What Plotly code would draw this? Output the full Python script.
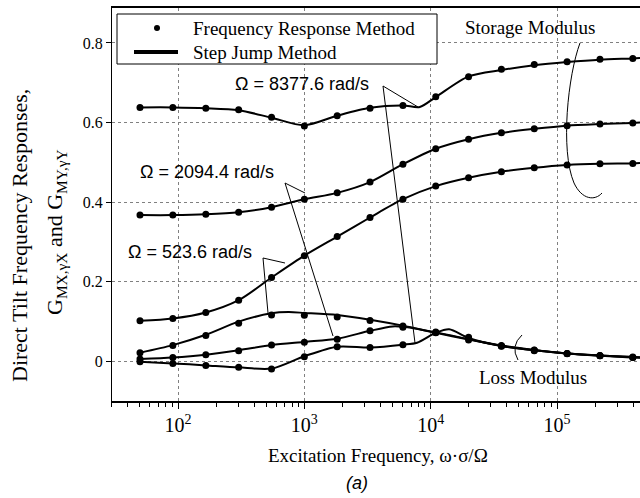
import plotly.graph_objects as go

# ---------------- data ----------------
freq_pts = [50, 91, 166, 302, 550, 1000, 1820, 3310, 6030, 10970, 19950, 36300, 66070, 120200, 218800, 398100]

# Frequency Response Method (points)
stor_8377 = [0.638, 0.638, 0.636, 0.632, 0.613, 0.591, 0.617, 0.636, 0.643, 0.665, 0.715, 0.734, 0.746, 0.753, 0.759, 0.761]
stor_2094 = [0.367, 0.367, 0.369, 0.374, 0.387, 0.407, 0.423, 0.450, 0.495, 0.534, 0.558, 0.574, 0.584, 0.592, 0.596, 0.599]
stor_523 = [0.101, 0.107, 0.122, 0.153, 0.210, 0.265, 0.313, 0.361, 0.407, 0.440, 0.461, 0.476, 0.486, 0.493, 0.496, 0.497]
loss_523 = [0.021, 0.039, 0.064, 0.095, 0.116, 0.115, 0.111, 0.102, 0.088, 0.072, 0.053, 0.039, 0.028, 0.019, 0.014, 0.010]
loss_2094 = [0.005, 0.009, 0.016, 0.026, 0.040, 0.047, 0.055, 0.076, 0.085, 0.073, 0.057, 0.038, 0.027, 0.019, 0.013, 0.009]
loss_8377 = [-0.002, -0.006, -0.011, -0.016, -0.020, 0.011, 0.036, 0.034, 0.041, 0.071, 0.060, 0.037, 0.026, 0.018, 0.013, 0.009]

# Step Jump Method (lines)
sj_stor_8377_x = [50, 91, 166, 302, 550, 1000, 1820, 3310, 6030, 8200, 10970, 19950, 36300, 66070, 120200, 218800, 398100, 454000]
sj_stor_8377_y = [0.638, 0.638, 0.636, 0.631, 0.612, 0.593, 0.617, 0.637, 0.643, 0.639, 0.664, 0.716, 0.732, 0.744, 0.752, 0.758, 0.761, 0.762]
sj_stor_2094_x = [50, 91, 166, 302, 550, 1000, 1820, 3310, 6030, 10970, 19950, 36300, 66070, 120200, 218800, 398100, 454000]
sj_stor_2094_y = [0.367, 0.367, 0.369, 0.374, 0.387, 0.407, 0.423, 0.450, 0.495, 0.534, 0.558, 0.574, 0.584, 0.592, 0.596, 0.599, 0.600]
sj_stor_523_x = [50, 91, 166, 302, 550, 1000, 1820, 3310, 6030, 10970, 19950, 36300, 66070, 120200, 218800, 398100, 454000]
sj_stor_523_y = [0.101, 0.107, 0.122, 0.153, 0.210, 0.265, 0.313, 0.361, 0.407, 0.440, 0.461, 0.476, 0.486, 0.493, 0.496, 0.497, 0.498]
sj_loss_523_x = [50, 91, 166, 302, 550, 750, 1000, 1820, 3310, 6030, 10970, 19950, 36300, 66070, 120200, 218800, 398100, 454000]
sj_loss_523_y = [0.021, 0.040, 0.066, 0.099, 0.120, 0.123, 0.121, 0.116, 0.104, 0.089, 0.071, 0.054, 0.039, 0.028, 0.019, 0.014, 0.010, 0.009]
sj_loss_2094_x = [50, 91, 166, 302, 550, 1000, 1820, 3310, 5000, 6030, 10970, 19950, 36300, 66070, 120200, 218800, 398100, 454000]
sj_loss_2094_y = [0.005, 0.009, 0.016, 0.027, 0.040, 0.048, 0.056, 0.076, 0.087, 0.086, 0.072, 0.055, 0.038, 0.027, 0.019, 0.013, 0.009, 0.009]
sj_loss_8377_x = [50, 91, 166, 302, 550, 1000, 1820, 3310, 6030, 7800, 10970, 14000, 19950, 36300, 66070, 120200, 218800, 398100, 454000]
sj_loss_8377_y = [-0.002, -0.006, -0.011, -0.016, -0.019, 0.012, 0.036, 0.034, 0.041, 0.046, 0.071, 0.080, 0.058, 0.038, 0.027, 0.019, 0.014, 0.010, 0.009]

y_tickvals = [0, 0.2, 0.4, 0.6, 0.8]
y_ticktext = ["0", "0.2", "0.4", "0.6", "0.8"]
legend_labels = ["Frequency Response Method", "Step Jump Method"]

SERIF = "Liberation Serif"
SANS = "Liberation Sans"

# ---------------- layout geometry (pixels) ----------------
W, H = 640, 498
L, R, T, B = 112, 640, 8, 401


def px(x):
    return (x - L) / (R - L)


def py(y):
    return (B - y) / (B - T)


fig = go.Figure()

point_sets = [stor_8377, stor_2094, stor_523, loss_523, loss_2094, loss_8377]
line_sets = [(sj_stor_8377_x, sj_stor_8377_y), (sj_stor_2094_x, sj_stor_2094_y),
             (sj_stor_523_x, sj_stor_523_y), (sj_loss_523_x, sj_loss_523_y),
             (sj_loss_2094_x, sj_loss_2094_y), (sj_loss_8377_x, sj_loss_8377_y)]

for lx, ly in line_sets:
    fig.add_trace(go.Scatter(x=lx, y=ly, mode="lines",
                             line=dict(color="black", width=2, shape="spline", smoothing=0.8),
                             name=legend_labels[1], showlegend=False, hoverinfo="skip"))
for ys in point_sets:
    fig.add_trace(go.Scatter(x=freq_pts, y=ys, mode="markers", marker=dict(color="black", size=7),
                             name=legend_labels[0], showlegend=False))

ann = []


def text(x, y, s, font, size, angle=0, italic=False, anchor="center"):
    ann.append(dict(x=px(x), y=py(y), xref="paper", yref="paper", text=s, showarrow=False,
                    xanchor=anchor, yanchor="middle", textangle=angle,
                    font=dict(family=font, size=size, color="black",
                              style="italic" if italic else "normal")))


text(302, 84, "Ω = 8377.6 rad/s", SANS, 18)
text(207, 172, "Ω = 2094.4 rad/s", SANS, 18)
text(190, 252, "Ω = 523.6 rad/s", SANS, 18)
text(530, 27, "Storage Modulus", SERIF, 19)
text(533, 377, "Loss Modulus", SERIF, 19)
text(378, 455, "Excitation Frequency, ω·σ/Ω", SERIF, 19)
text(357, 483, "(a)", SANS, 18, italic=True)
text(19, 236, "Direct Tilt Frequency Responses,", SERIF, 22, angle=-90)
text(56, 232, "G<sub>MX,γX</sub> and G<sub>MY,γY</sub>", SERIF, 22, angle=-90)

# legend (box, symbols, labels)
text(191, 28, legend_labels[0], SERIF, 19, anchor="left")
text(191, 52, legend_labels[1], SERIF, 19, anchor="left")

shapes = []


def seg(x0, y0, x1, y1, w=1):
    shapes.append(dict(type="line", xref="paper", yref="paper", x0=px(x0), y0=py(y0), x1=px(x1), y1=py(y1),
                       line=dict(color="black", width=w)))


shapes.append(dict(type="rect", xref="paper", yref="paper", x0=px(117), y0=py(14), x1=px(437), y1=py(64),
                   line=dict(color="black", width=1), fillcolor="white", layer="above"))
shapes.append(dict(type="circle", xref="paper", yref="paper", x0=px(154), y0=py(25), x1=px(160), y1=py(31),
                   line=dict(color="black", width=0), fillcolor="black", layer="above"))
shapes.append(dict(type="line", xref="paper", yref="paper", x0=px(134), y0=py(52), x1=px(178), y1=py(52),
                   line=dict(color="black", width=4), layer="above"))

# leader lines
seg(383, 86, 418, 107)
seg(383, 86, 415, 343)
seg(285, 183, 305, 193)
seg(285, 183, 333, 336)
seg(263, 258, 285, 263)
seg(263, 258, 268, 313)


def P(x, y):
    return f"{px(x):.5f},{py(y):.5f}"


storage_path = ("M " + P(580, 43) + " C " + P(568, 75) + " " + P(560, 150) + " " + P(574, 183) +
                " C " + P(582, 200) + " " + P(595, 201) + " " + P(602, 193))
loss_path = "M " + P(522, 335) + " Q " + P(510, 346) + " " + P(518, 360)
for pth in (storage_path, loss_path):
    shapes.append(dict(type="path", xref="paper", yref="paper", path=pth, line=dict(color="black", width=1)))

fig.update_layout(
    width=W, height=H,
    margin=dict(l=L, r=W - R, t=T, b=H - B, pad=0),
    paper_bgcolor="white", plot_bgcolor="white",
    font=dict(family=SERIF, size=16, color="black"),
    showlegend=False,
    annotations=ann,
    shapes=shapes,
)

fig.update_xaxes(type="log", range=[1.4774, 5.657], showline=True, linecolor="black", linewidth=1.5,
                 mirror=True, ticks="outside", ticklen=6, tickcolor="black", dtick=1,
                 exponentformat="power", showexponent="all",
                 tickfont=dict(family=SERIF, size=16),
                 showgrid=True, gridcolor="#808080", griddash="dot", gridwidth=1,
                 zeroline=False,
                 minor=dict(ticks="outside", ticklen=4, tickcolor="black", dtick="D1", showgrid=False))
fig.update_yaxes(range=[-0.1006, 0.888], showline=True, linecolor="black", linewidth=1, mirror=False,
                 ticks="outside", ticklen=5, tickcolor="black",
                 tickvals=y_tickvals, ticktext=y_ticktext,
                 tickfont=dict(family=SERIF, size=16),
                 showgrid=True, gridcolor="#808080", griddash="dot", gridwidth=1, zeroline=False)

fig.write_html("out.html")
